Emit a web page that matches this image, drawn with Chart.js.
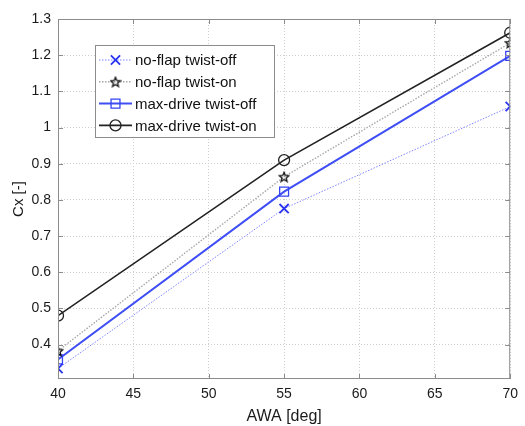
<!DOCTYPE html>
<html>
<head>
<meta charset="utf-8">
<script src="https://cdn.jsdelivr.net/npm/chart.js@4/dist/chart.umd.min.js"></script>
<style>
  html, body { margin: 0; padding: 0; background: #fff; }
  #wrap { width: 525px; height: 426px; }
</style>
</head>
<body>
<div id="wrap"><canvas id="grafica"></canvas></div>
<script>
// Apparent wind angle (deg) and force coefficient per configuration
const awa = [40, 55, 70];
const noFlapOff = [0.334, 0.776, 1.058];
const noFlapOn = [0.383, 0.864, 1.234];
const maxDriveOff = [0.359, 0.823, 1.198];
const maxDriveOn = [0.480, 0.910, 1.262];

const xTicks = [40, 45, 50, 55, 60, 65, 70];
const yTicks = [0.4, 0.5, 0.6, 0.7, 0.8, 0.9, 1, 1.1, 1.2, 1.3];

const FONT = '"Liberation Sans", Arial, sans-serif';

// pentagram outline used as point style
function starIcon(size) {
    const c = document.createElement('canvas');
    c.width = size; c.height = size;
    const g = c.getContext('2d');
    const cx = size / 2, cy = size / 2 + 0.5;
    const ro = size / 2 - 1, ri = ro * 0.45;
    g.beginPath();
    for (let i = 0; i < 10; i++) {
        const r = i % 2 === 0 ? ro : ri;
        const a = -Math.PI / 2 + i * Math.PI / 5;
        const px = cx + r * Math.cos(a), py = cy + r * Math.sin(a);
        if (i === 0) g.moveTo(px, py); else g.lineTo(px, py);
    }
    g.closePath();
    g.strokeStyle = '#111';
    g.lineWidth = 1.3;
    g.stroke();
    return c;
}

const toPoints = ys => awa.map((x, i) => ({ x: x, y: ys[i] }));

const series = [
    { label: 'no-flap twist-off', data: toPoints(noFlapOff), borderColor: '#7f86ff', borderWidth: 1,
      borderDash: [1.5, 1.5], pointStyle: 'crossRot', pointRadius: 6.5, pointBorderColor: '#2b35f0', pointBorderWidth: 1.8 },
    { label: 'no-flap twist-on', data: toPoints(noFlapOn), borderColor: '#a8a8a8', borderWidth: 1.4,
      borderDash: [1.5, 1.5], pointStyle: starIcon(12), pointRadius: 6, pointBorderColor: '#111' },
    { label: 'max-drive twist-off', data: toPoints(maxDriveOff), borderColor: '#3f4ef5', borderWidth: 2,
      pointStyle: 'rect', pointRadius: 6.3, pointBorderColor: '#3344f0', pointBorderWidth: 1.3 },
    { label: 'max-drive twist-on', data: toPoints(maxDriveOn), borderColor: '#222', borderWidth: 1.6,
      pointStyle: 'circle', pointRadius: 5.5, pointBorderColor: '#222', pointBorderWidth: 1.3 }
];

// box, inward ticks and in-plot legend
const marcoYLeyenda = {
    id: 'marcoYLeyenda',
    afterDatasetsDraw(chart) {
        const { ctx, chartArea: a, scales } = chart;
        ctx.save();
        ctx.strokeStyle = '#8c8c8c';
        ctx.lineWidth = 1;
        ctx.strokeRect(a.left + 0.5, a.top + 0.5, a.right - a.left - 1, a.bottom - a.top - 1);
        ctx.beginPath();
        xTicks.forEach(v => {
            const px = Math.round(scales.x.getPixelForValue(v)) + 0.5;
            ctx.moveTo(px, a.bottom); ctx.lineTo(px, a.bottom - 5);
            ctx.moveTo(px, a.top); ctx.lineTo(px, a.top + 5);
        });
        yTicks.forEach(v => {
            const py = Math.round(scales.y.getPixelForValue(v)) + 0.5;
            ctx.moveTo(a.left, py); ctx.lineTo(a.left + 5, py);
            ctx.moveTo(a.right, py); ctx.lineTo(a.right - 5, py);
        });
        ctx.stroke();

        // legend
        const bx = 95, by = 45, bw = 179, bh = 92;
        ctx.fillStyle = '#fff';
        ctx.fillRect(bx, by, bw, bh);
        ctx.strokeStyle = '#8c8c8c';
        ctx.strokeRect(bx + 0.5, by + 0.5, bw, bh);
        ctx.font = '15px ' + FONT;
        ctx.textBaseline = 'middle';
        chart.data.datasets.forEach((ds, i) => {
            const y = 60 + i * 21.8;
            ctx.strokeStyle = ds.borderColor;
            ctx.lineWidth = ds.borderWidth;
            ctx.setLineDash(ds.borderDash || []);
            ctx.beginPath();
            ctx.moveTo(99, y); ctx.lineTo(132, y);
            ctx.stroke();
            ctx.setLineDash([]);
            ctx.strokeStyle = ds.pointBorderColor;
            ctx.lineWidth = ds.pointBorderWidth || 1;
            ctx.fillStyle = 'rgba(0,0,0,0)';
            Chart.helpers.drawPoint(ctx, { pointStyle: ds.pointStyle, radius: ds.pointRadius, rotation: 0, borderWidth: ds.pointBorderWidth || 1 }, 115.5, y);
            ctx.fillStyle = '#111';
            ctx.fillText(ds.label, 135, y + 1);
        });
        ctx.restore();
    }
};

new Chart(document.getElementById('grafica'), {
    type: 'line',
    data: {
        datasets: series.map(s => Object.assign({ backgroundColor: 'rgba(0,0,0,0)', pointBackgroundColor: 'rgba(0,0,0,0)', tension: 0, fill: false }, s))
    },
    options: {
        responsive: true,
        maintainAspectRatio: false,
        animation: false,
        layout: { padding: { top: 19, right: 10, left: 10, bottom: 0 } },
        plugins: { legend: { display: false }, tooltip: { enabled: false } },
        scales: {
            x: {
                type: 'linear', min: 40, max: 70,
                afterBuildTicks: s => { s.ticks = xTicks.map(v => ({ value: v })); },
                afterFit: s => { s.height = 47; },
                ticks: { color: '#1a1a1a', font: { family: FONT, size: 14 }, padding: 7, maxRotation: 0 },
                grid: { color: '#cfcfcf', lineWidth: 1, drawTicks: false },
                border: { display: false, dash: [1, 2] },
                title: { display: true, text: 'AWA [deg]', color: '#1a1a1a', font: { family: FONT, size: 16 }, padding: { top: 0, bottom: 0 } }
            },
            y: {
                min: 0.305, max: 1.3,
                afterBuildTicks: s => { s.ticks = yTicks.map(v => ({ value: v })); },
                afterFit: s => { s.width = 48; },
                ticks: { color: '#1a1a1a', font: { family: FONT, size: 14 }, padding: 7, callback: v => String(Math.round(v * 10) / 10) },
                grid: { color: '#cfcfcf', lineWidth: 1, drawTicks: false },
                border: { display: false, dash: [1, 2] },
                title: { display: true, text: 'Cx [-]', color: '#1a1a1a', font: { family: FONT, size: 15 }, padding: { top: 0, bottom: 0 } }
            }
        }
    },
    plugins: [marcoYLeyenda]
});
</script>
</body>
</html>
